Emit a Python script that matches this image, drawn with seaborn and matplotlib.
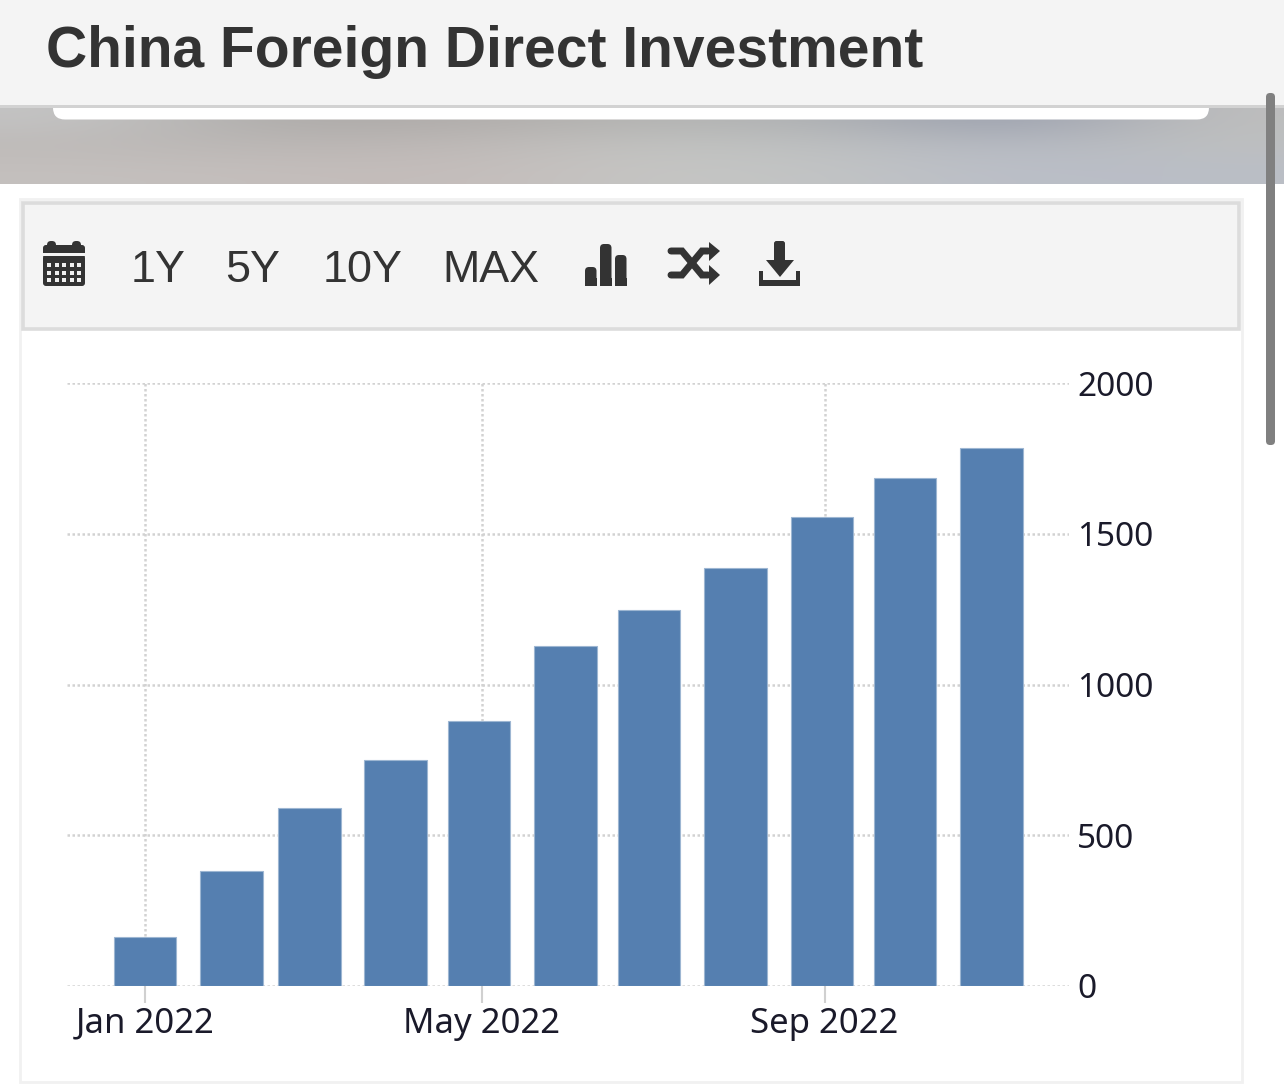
import numpy as np
import pandas as pd
import matplotlib
matplotlib.use('Agg')
import matplotlib.pyplot as plt
import matplotlib.dates as mdates
from matplotlib.patches import Rectangle, FancyBboxPatch, Polygon
import seaborn as sns

# values
months = ['2022-01-01', '2022-02-01', '2022-03-01', '2022-04-01', '2022-05-01', '2022-06-01',
          '2022-07-01', '2022-08-01', '2022-09-01', '2022-10-01', '2022-11-01']
fdi = [163, 382, 591, 750, 880, 1129, 1248, 1388, 1557, 1686, 1786]
tick_months = ['2022-01-01', '2022-05-02', '2022-09-02']
tick_labels = ['Jan 2022', 'May 2022', 'Sep 2022']
y_ticks = [0, 500, 1000, 1500, 2000]
buttons = ['1Y', '5Y', '10Y', 'MAX']
title = 'China Foreign Direct Investment'

W, H = 1284, 1086
DARK = '#333333'
BAR = '#557fb0'
PX_PER_DAY = 2.785

sns.set_theme(style='white')
plt.rcParams['font.family'] = ['Liberation Sans', 'DejaVu Sans']

df = pd.DataFrame({'month': mdates.date2num(pd.to_datetime(months)), 'fdi': fdi})

fig = plt.figure(figsize=(W / 100, H / 100), dpi=100, facecolor='white')

# page furniture, drawn in pixel coordinates
bg = fig.add_axes([0, 0, 1, 1], zorder=0)
bg.axis('off')

# blurred photo strip behind the header
strip = np.array([[[196, 196, 196], [172, 170, 168], [176, 172, 170], [180, 180, 178], [176, 178, 180], [150, 156, 172], [190, 190, 190]],
                  [[190, 186, 184], [186, 182, 180], [190, 184, 182], [194, 195, 193], [190, 192, 192], [180, 184, 194], [190, 192, 192]],
                  [[196, 192, 190], [196, 190, 188], [196, 188, 186], [198, 198, 196], [194, 196, 196], [186, 190, 200], [186, 190, 198]]],
                 dtype=float) / 255
bg.imshow(strip, extent=(0, W, 184, 105), interpolation='bicubic', aspect='auto', zorder=1)
bg.set_xlim(0, W)
bg.set_ylim(H, 0)

bg.add_patch(FancyBboxPatch((53, 90), 1156, 29.5, boxstyle='round,pad=0,rounding_size=12',
                            fc='white', ec='none', zorder=2))
bg.add_patch(Rectangle((0, 0), W, 105, fc='#f4f4f4', ec='none', zorder=3))
bg.add_patch(Rectangle((0, 105), W, 2.5, fc='#d2d2d2', ec='none', zorder=3))
bg.text(45.5, 52, title, fontsize=41, fontweight='bold', color=DARK, va='center', ha='left', zorder=4)

# chart card and toolbar
bg.add_patch(Rectangle((20, 199), 1222, 883, fc='white', ec='#f1f1f1', lw=2, zorder=1))
bg.add_patch(Rectangle((23, 203), 1216, 126, fc='#f4f4f4', ec='#dcdcdc', lw=2.6, zorder=2))

for label, x in zip(buttons, [131, 225, 323, 442.5]):
    bg.text(x, 271, label, fontsize=32.3, color=DARK, va='center', ha='left', zorder=4)

# calendar icon
bg.add_patch(FancyBboxPatch((43, 245), 42, 13, boxstyle='round,pad=0,rounding_size=3', fc=DARK, ec='none', zorder=4))
bg.add_patch(FancyBboxPatch((47, 241), 9, 8, boxstyle='round,pad=0,rounding_size=4', fc=DARK, ec='none', zorder=4))
bg.add_patch(FancyBboxPatch((72, 241), 9, 8, boxstyle='round,pad=0,rounding_size=4', fc=DARK, ec='none', zorder=4))
bg.add_patch(FancyBboxPatch((43, 255), 42, 31, boxstyle='round,pad=0,rounding_size=3', fc=DARK, ec='none', zorder=4))
bg.add_patch(Rectangle((43, 252.5), 42, 3, fc='#f4f4f4', ec='none', zorder=5))
for cx in [47, 54.5, 62, 69.5, 77]:
    for cy in [263, 271, 278]:
        bg.add_patch(Rectangle((cx, cy), 4, 4, fc='#f0f0f0', ec='none', zorder=5))

# bar chart icon
for x0, top in [(585, 267), (600, 244), (615, 255)]:
    bg.add_patch(FancyBboxPatch((x0, top), 11.5, 286 - top, boxstyle='round,pad=0,rounding_size=4',
                                fc=DARK, ec='none', zorder=4))
    bg.add_patch(Rectangle((x0, 278), 11.5, 8, fc=DARK, ec='none', zorder=4))

# shuffle icon
bg.plot([671, 682, 702, 708], [251, 251, 275, 275], color=DARK, lw=5, solid_capstyle='round',
        solid_joinstyle='miter', zorder=4)
bg.plot([671, 682, 702, 708], [275, 275, 251, 251], color=DARK, lw=5, solid_capstyle='round',
        solid_joinstyle='miter', zorder=4)
bg.add_patch(Polygon([[709, 242], [720, 251], [709, 261]], fc=DARK, ec='none', zorder=4))
bg.add_patch(Polygon([[709, 265], [720, 275], [709, 285]], fc=DARK, ec='none', zorder=4))

# download icon
bg.add_patch(FancyBboxPatch((774, 241), 11, 24, boxstyle='round,pad=0,rounding_size=2.5', fc=DARK, ec='none', zorder=4))
bg.add_patch(Polygon([[766, 260], [794, 260], [780, 277]], fc=DARK, ec='none', zorder=4))
bg.add_patch(Polygon([[759, 271], [763, 271], [763, 280], [796, 280], [796, 271], [800, 271],
                      [800, 286], [759, 286]], fc=DARK, ec='none', zorder=4))

# scrollbar
bg.add_patch(FancyBboxPatch((1266, 93), 9, 352, boxstyle='round,pad=0,rounding_size=4',
                            fc='#808080', ec='none', zorder=6))

# chart
ax = fig.add_axes([67 / W, 1 - 986 / H, (1069 - 67) / W, (986 - 383) / H], zorder=2)
ax.patch.set_alpha(0)
sns.barplot(data=df, x='month', y='fdi', native_scale=True, color=BAR, saturation=1,
            edgecolor='#9db6d2', linewidth=0.8, ax=ax, zorder=3)

jan = mdates.date2num(pd.Timestamp(months[0]))
ax.set_xlim(jan - (145 - 67) / PX_PER_DAY, jan + (1069 - 145) / PX_PER_DAY)
ax.set_ylim(0, 2000)
ax.set_xlabel('')
ax.set_ylabel('')

ax.set_xticks(mdates.date2num(pd.to_datetime(tick_months)))
ax.set_xticklabels(tick_labels)
ax.set_yticks(y_ticks)
ax.yaxis.tick_right()
for s in ax.spines.values():
    s.set_visible(False)

ax.grid(True, color='#d2d2d2', linestyle=(0, (1, 1)), linewidth=1.8)
ax.set_axisbelow(True)
ax.tick_params(axis='x', bottom=True, length=12, width=1.5, color='#d0d0d0', pad=3, labelsize=25, labelcolor='#1a1a2a')
ax.tick_params(axis='y', length=0, pad=6, labelsize=24, labelcolor='#1a1a2a')
for t in ax.get_xticklabels() + ax.get_yticklabels():
    t.set_fontfamily(['Noto Sans', 'DejaVu Sans'])

fig.savefig('out.png', dpi=100, facecolor='white')
